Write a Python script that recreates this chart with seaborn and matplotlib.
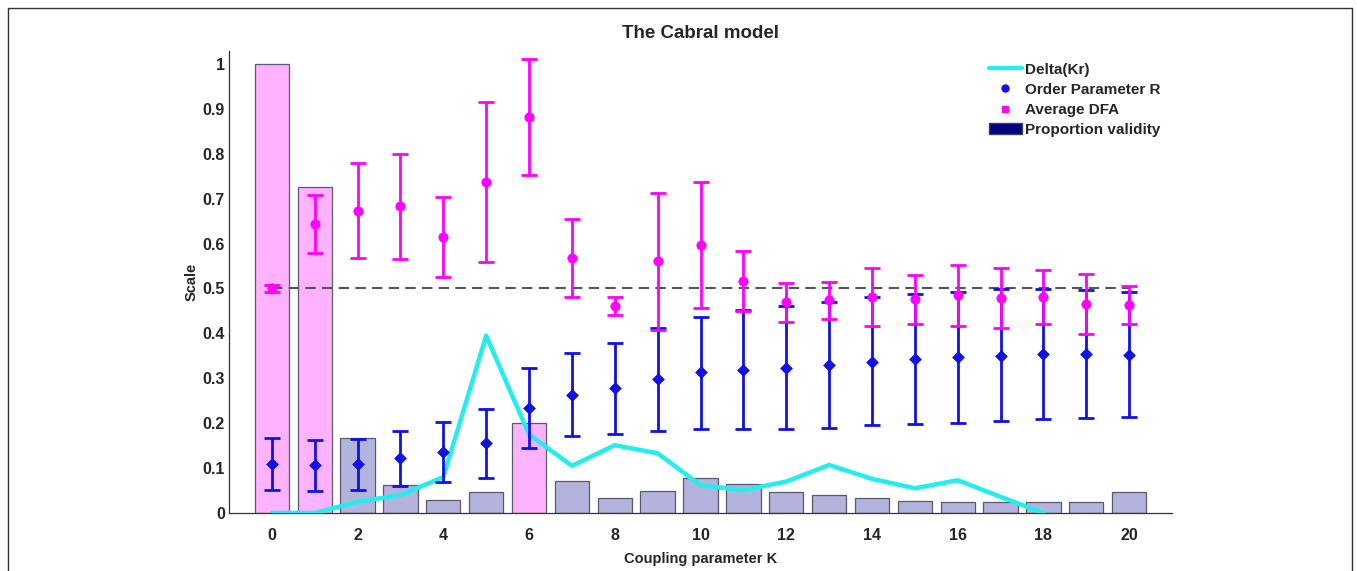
import numpy as np
import pandas as pd
import matplotlib
matplotlib.use("Agg")
import matplotlib.pyplot as plt
from matplotlib.lines import Line2D
from matplotlib.patches import Patch
import seaborn as sns

# ---- data ----
K = list(range(21))
validity = [1.0, 0.725, 0.167, 0.062, 0.029, 0.046, 0.200, 0.071, 0.034, 0.049, 0.077,
            0.065, 0.047, 0.039, 0.034, 0.026, 0.024, 0.024, 0.024, 0.025, 0.046]
valid_group = ["p", "p", "v", "v", "v", "v", "p", "v", "v", "v", "v",
               "v", "v", "v", "v", "v", "v", "v", "v", "v", "v"]
delta_K = list(range(19))
delta = [0.0, 0.0, 0.025, 0.040, 0.080, 0.395, 0.175, 0.105, 0.151, 0.133, 0.062,
         0.051, 0.070, 0.107, 0.076, 0.055, 0.073, 0.036, 0.0]
R_mean = [0.109, 0.106, 0.109, 0.122, 0.135, 0.155, 0.233, 0.263, 0.279, 0.298, 0.313,
          0.318, 0.323, 0.329, 0.337, 0.342, 0.347, 0.350, 0.353, 0.353, 0.352]
R_low = [0.051, 0.050, 0.051, 0.060, 0.068, 0.077, 0.144, 0.172, 0.177, 0.183, 0.187,
         0.186, 0.186, 0.189, 0.195, 0.199, 0.201, 0.206, 0.209, 0.212, 0.213]
R_high = [0.166, 0.163, 0.164, 0.183, 0.202, 0.232, 0.324, 0.356, 0.379, 0.411, 0.437,
          0.451, 0.462, 0.469, 0.480, 0.487, 0.492, 0.498, 0.498, 0.497, 0.492]
DFA_mean = [0.500, 0.643, 0.673, 0.683, 0.614, 0.737, 0.882, 0.569, 0.462, 0.561, 0.597,
            0.517, 0.470, 0.474, 0.482, 0.476, 0.485, 0.479, 0.481, 0.465, 0.463]
DFA_low = [0.493, 0.578, 0.567, 0.566, 0.526, 0.560, 0.752, 0.482, 0.440, 0.408, 0.457,
           0.450, 0.426, 0.432, 0.416, 0.422, 0.416, 0.413, 0.420, 0.398, 0.421]
DFA_high = [0.507, 0.708, 0.780, 0.800, 0.703, 0.915, 1.012, 0.654, 0.482, 0.713, 0.737,
            0.583, 0.512, 0.515, 0.546, 0.529, 0.552, 0.545, 0.541, 0.532, 0.506]
ref_level = 0.5
x_ticks = list(range(0, 21, 2))
y_ticks = [0, 0.1, 0.2, 0.3, 0.4, 0.5, 0.6, 0.7, 0.8, 0.9, 1]
y_tick_labels = ["0", "0.1", "0.2", "0.3", "0.4", "0.5", "0.6", "0.7", "0.8", "0.9", "1"]

sns.set_style("white")
plt.rcParams['font.family'] = ['Liberation Sans', 'DejaVu Sans']
plt.rcParams['font.weight'] = 'bold'

W, H = 1357, 571
fig = plt.figure(figsize=(W / 100, H / 100), dpi=100)
ax = fig.add_axes([229 / W, (H - 513) / H, (1172 - 229) / W, (513 - 50.5) / H])

PINK = "#ffb3ff"
LAV = "#b3b3dd"
BLUE = "#1010e8"
MAG = "#ff00ff"
CYAN = "#22eeee"

df_bar = pd.DataFrame({"K": K, "validity": validity, "grp": valid_group})
sns.barplot(data=df_bar, x="K", y="validity", hue="grp", palette={"p": PINK, "v": LAV},
            native_scale=True, dodge=False, width=0.8, edgecolor="#5a5a6a", saturation=1,
            linewidth=0.9, legend=False, ax=ax, zorder=1)

ax.plot([0, 20], [ref_level, ref_level], ls=(0, (5, 3)), color="#555555", lw=1.5, zorder=2)

df_line = pd.DataFrame({"K": delta_K, "delta": delta})
sns.lineplot(data=df_line, x="K", y="delta", color=CYAN, lw=3.2, ax=ax, zorder=3)

Kk = np.array(K)
Rm = np.array(R_mean)
ax.errorbar(Kk, Rm, yerr=[Rm - np.array(R_low), np.array(R_high) - Rm], fmt='none',
            ecolor=BLUE, elinewidth=2.0, capsize=6, capthick=2.0, zorder=4)
Dm = np.array(DFA_mean)
ax.errorbar(Kk, Dm, yerr=[Dm - np.array(DFA_low), np.array(DFA_high) - Dm], fmt='none',
            ecolor=MAG, elinewidth=2.0, capsize=6, capthick=2.0, zorder=5)
sns.scatterplot(x=K, y=R_mean, marker="D", s=36, color=BLUE, edgecolor=BLUE, ax=ax, zorder=6)
sns.scatterplot(x=K, y=DFA_mean, marker="o", s=45, color=MAG, edgecolor=MAG, ax=ax, zorder=7)

ax.set_xlim(-1, 21)
ax.set_ylim(0, 1.03)
ax.set_xticks(x_ticks)
ax.set_xticks(list(range(1, 21, 2)), minor=True)
ax.set_yticks(y_ticks)
ax.set_yticklabels(y_tick_labels)
ax.set_yticks([0.05 + 0.1 * i for i in range(10)], minor=True)
ax.tick_params(axis='both', which='both', direction='in', length=5, width=0.9,
               color="#333333", labelsize=11.5)
ax.tick_params(axis='x', pad=11)
ax.tick_params(axis='y', pad=3)
for lab in ax.get_xticklabels() + ax.get_yticklabels():
    lab.set_fontweight('bold')
sns.despine(ax=ax)
for s in ["left", "bottom"]:
    ax.spines[s].set_color("#333333")
    ax.spines[s].set_linewidth(0.9)

ax.set_title("The Cabral model", fontsize=13.5, fontweight='bold', pad=9)
ax.set_xlabel("Coupling parameter K", fontsize=10.5, fontweight='bold', labelpad=6)
ax.set_ylabel("Scale", fontsize=10.5, fontweight='bold', labelpad=3)

handles = [
    Line2D([0], [0], color=CYAN, lw=3),
    Line2D([0], [0], color=BLUE, marker='o', ls='none', markersize=5),
    Line2D([0], [0], color=MAG, marker='s', ls='none', markersize=4.5),
    Patch(facecolor="#000080", edgecolor="#444444"),
]
labels = ["Delta(Kr)", "Order Parameter R", "Average DFA", "Proportion validity"]
leg = ax.legend(handles, labels, loc="upper left", bbox_to_anchor=(981 / W, 1 - 55 / H),
                bbox_transform=fig.transFigure, frameon=False, fontsize=11,
                handlelength=2.2, handletextpad=0.2, labelspacing=0.4, borderpad=0)
for t in leg.get_texts():
    t.set_fontweight('bold')

# outer frame
for (x0, y0, x1, y1) in [(8, 8, 1352, 8), (8, 8, 8, 580), (1352, 8, 1352, 580)]:
    fig.add_artist(Line2D([x0 / W, x1 / W], [1 - y0 / H, 1 - y1 / H], color="#333333",
                          lw=1.0, transform=fig.transFigure))

fig.savefig("out.png", dpi=100, facecolor="white")
